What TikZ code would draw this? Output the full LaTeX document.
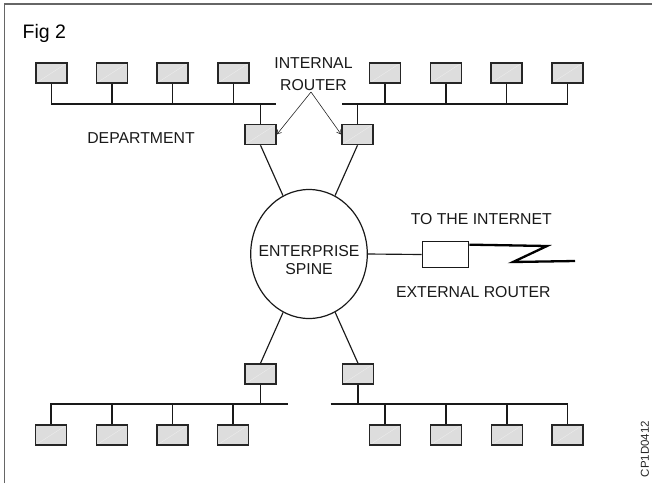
\documentclass[tikz,border=0pt]{standalone}
\usepackage{fontspec}
\setmainfont{Liberation Sans}
\usetikzlibrary{arrows.meta,calc,shapes.geometric}
\tikzset{
  pc/.style={draw=black!85, line width=1.5pt, fill=gray!27, minimum width=31pt, minimum height=20pt, inner sep=0pt,
    path picture={\draw[white!85!gray, line width=0.4pt] (path picture bounding box.south west) -- (path picture bounding box.north east);}},
  wire/.style={draw=black!90, line width=1.15pt},
  lbl/.style={font=\fontsize{15.8}{18.3}\selectfont, text=black!90, inner sep=0pt, align=center},
  ptr/.style={draw=black!85, line width=0.6pt, -{Straight Barb[length=4pt,width=5pt]}},
  frameline/.style={draw=black!60, line width=1.3pt}
}
\begin{document}
\begin{tikzpicture}[x=1pt,y=-1pt]
\useasboundingbox (0,0) rectangle (652,483);
% frame
\coordinate (fa) at (4.5,483);
\coordinate (fb) at (4.5,4);
\coordinate (fc) at (652,4);
\draw[frameline] (fa) -- (fb) -- (fc);
\node[anchor=base west, font=\fontsize{19.5}{22}\selectfont, inner sep=0pt] (fig) at (22.5,38.3) {Fig 2};

% top-left department
\foreach \n/\x in {1/51.5,2/112,3/172.5,4/233.5}{\node[pc] (t\n) at (\x,73) {};}
\node[pc] (rTL) at (260.5,134.5) {};
\coordinate (tlE) at (276,104);
\draw[wire] (t1.south) |- (tlE);
\foreach \n in {2,3,4}{\draw[wire] (t\n.south) -- (t\n.south |- tlE);}
\draw[wire] (rTL.north) -- (rTL.north |- tlE);

% top-right department
\foreach \n/\x in {1/385,2/446,3/506.5,4/567.5}{\node[pc] (u\n) at (\x,73) {};}
\node[pc] (rTR) at (357.5,134.5) {};
\coordinate (trW) at (342,104);
\draw[wire] (trW) -| (u4.south);
\foreach \n in {1,2,3}{\draw[wire] (u\n.south) -- (u\n.south |- trW);}
\draw[wire] (rTR.north) -- (rTR.north |- trW);

% bottom-left department
\foreach \n/\x in {1/51,2/112,3/172.5,4/233}{\node[pc] (b\n) at (\x,435) {};}
\node[pc] (rBL) at (260.5,374) {};
\coordinate (blE) at (287.7,404);
\draw[wire] (b1.north) |- (blE);
\foreach \n in {2,3,4}{\draw[wire] (b\n.north) -- (b\n.north |- blE);}
\draw[wire] (rBL.south) -- (rBL.south |- blE);

% bottom-right department
\foreach \n/\x in {1/385,2/446,3/507,4/567.5}{\node[pc] (v\n) at (\x,435) {};}
\node[pc] (rBR) at (358,374) {};
\coordinate (brW) at (330.7,404);
\draw[wire] (brW) -| (v4.north);
\foreach \n in {1,2,3}{\draw[wire] (v\n.north) -- (v\n.north |- brW);}
\draw[wire] (rBR.south) -- (rBR.south |- brW);

% enterprise spine
\node[draw=black!90, line width=1.2pt, ellipse, minimum width=116.6pt, minimum height=129pt, inner sep=0pt] (spine) at (309,254) {};
\node[lbl] (spinetext) at (309,260) {ENTERPRISE\\SPINE};
\draw[wire] (rTL.south) -- (spine);
\draw[wire] (rTR.south) -- (spine);
\draw[wire] (rBL.north) -- (spine);
\draw[wire] (rBR.north) -- (spine);

% external router
\node[draw=black!90, line width=1.2pt, fill=white, minimum width=46.5pt, minimum height=25.3pt, inner sep=0pt] (ext) at (445.5,254.5) {};
\draw[wire] (spine.east) -- (ext.west);
\coordinate (inet) at (575,261);
\draw[black, line width=2.3pt, miter limit=20] ([yshift=-3.4pt]ext.north east) -- (547,246) -- (513,262) -- (inet);
\node[lbl] (tointernet) at (481.3,219) {TO THE INTERNET};
\node[lbl] (extlbl) at (473.3,292.5) {EXTERNAL ROUTER};

% labels
\node[lbl] (dept) at (141,138) {DEPARTMENT};
\node[lbl, font=\fontsize{15.8}{21.5}\selectfont] (irlbl) at (313.5,74) {INTERNAL\\ROUTER};
\coordinate (ap) at (311,92);
\draw[ptr] (ap) -- (rTL.east);
\draw[ptr] (ap) -- (rTR.west);

\node[rotate=90, font=\fontsize{11.5}{13}\selectfont, inner sep=0pt, text=black!85] (code) at (645,449) {CP1D0412};
\end{tikzpicture}
\end{document}
